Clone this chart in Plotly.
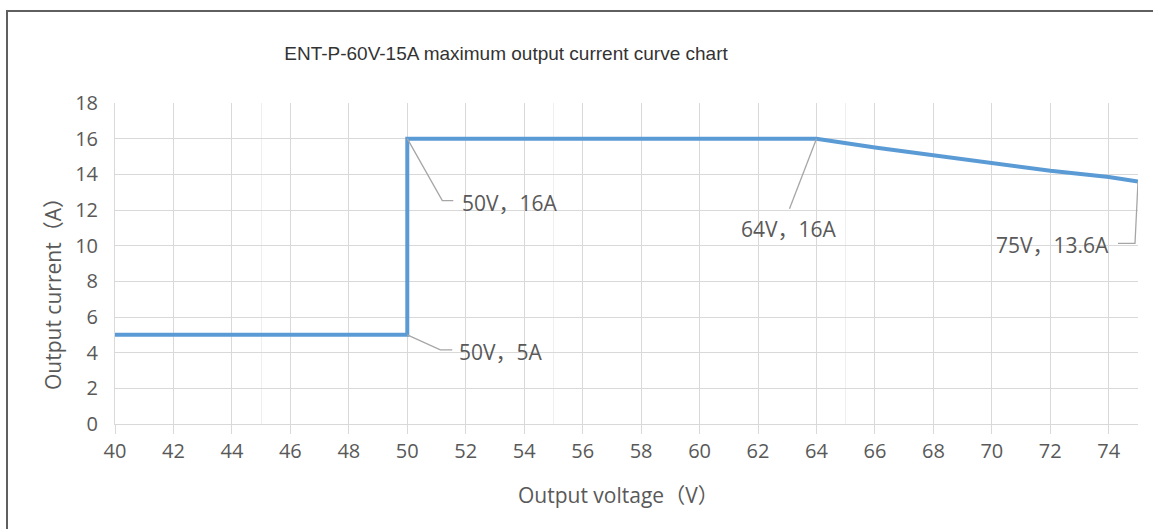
import plotly.graph_objects as go

# ---- data ----
voltage = [40, 50, 50, 64, 66, 68, 70, 72, 74, 75]
current = [5, 5, 16, 16, 15.5, 15.05, 14.65, 14.2, 13.85, 13.6]

label_v = [50, 50, 64, 75]
label_i = [16, 5, 16, 13.6]
label_text = ["50V，16A", "50V，5A", "64V，16A", "75V，13.6A"]

x_ticks = list(range(40, 75, 2))
y_ticks = list(range(0, 19, 2))

title_text = "ENT-P-60V-15A maximum output current curve chart"
x_title = "Output voltage（V）"
y_title = "Output current（A）"

# ---- styling ----
FONT = "Open Sans, Noto Sans CJK SC, sans-serif"
TXT = "#595959"
GRID = "#d9d9d9"
LEADER = "#a6a6a6"
W, H = 1153, 529
ML, MR, MT, MB = 115, 15, 103, 105
PW, PH = W - ML - MR, H - MT - MB

fig = go.Figure()
fig.add_trace(go.Scatter(x=voltage, y=current, mode="lines",
                         line=dict(color="#5b9bd5", width=4),
                         hoverinfo="skip", showlegend=False))

# leader line geometry (pixel offsets relative to the labelled point) and text offsets
leaders = [
    "M0,0 L35,-62 L46,-62",
    "M0,0 L33,-15 L45,-15",
    "M0,0 L-27,-70",
    "M0,0 L-3,-62 L-20,-62",
]
text_pos = [
    dict(xanchor="left", xshift=53, yshift=-64),
    dict(xanchor="left", xshift=50, yshift=-17),
    dict(xanchor="center", xshift=-27, yshift=-90),
    dict(xanchor="right", xshift=-27, yshift=-64),
]
shapes = []
annotations = []
for v, i, t, path, pos in zip(label_v, label_i, label_text, leaders, text_pos):
    shapes.append(dict(type="path", xref="x", yref="y", xsizemode="pixel", ysizemode="pixel",
                       xanchor=v, yanchor=i, path=path,
                       line=dict(color=LEADER, width=1.3)))
    annotations.append(dict(x=v, y=i, xref="x", yref="y", text=t, showarrow=False,
                            yanchor="middle", font=dict(family=FONT, size=21, color=TXT), **pos))

# axis titles
annotations.append(dict(text=x_title, xref="paper", yref="paper",
                        x=(618 - ML) / PW, y=(H - MB - 495) / PH,
                        xanchor="center", yanchor="middle", showarrow=False,
                        font=dict(family=FONT, size=21, color=TXT)))
annotations.append(dict(text=y_title, xref="paper", yref="paper",
                        x=(53 - ML) / PW, y=(H - MB - 289) / PH, textangle=-90,
                        xanchor="center", yanchor="middle", showarrow=False,
                        font=dict(family=FONT, size=21, color=TXT)))

# outer chart border
shapes.append(dict(type="rect", xref="paper", yref="paper", layer="above",
                   x0=(7 - ML) / PW, x1=(W + 20 - ML) / PW,
                   y0=(H - MB - (H + 20)) / PH, y1=(H - MB - 11) / PH,
                   line=dict(color="#5f5f5f", width=2), fillcolor="rgba(0,0,0,0)"))

fig.update_layout(
    width=W, height=H,
    margin=dict(l=ML, r=MR, t=MT, b=MB),
    paper_bgcolor="white", plot_bgcolor="white",
    title=dict(text=title_text, x=506 / W, xanchor="center", y=1 - 53 / H, yanchor="middle",
               font=dict(family="Liberation Sans, Arial, sans-serif", size=19, color="#333333")),
    shapes=shapes, annotations=annotations,
    xaxis=dict(range=[40, 75], tickvals=x_ticks, ticktext=[str(v) for v in x_ticks],
               showgrid=True, gridcolor=GRID, gridwidth=1, zeroline=False,
               showline=True, linecolor=GRID, linewidth=1,
               ticks="outside", ticklen=9, tickcolor=GRID, tickwidth=1,
               tickfont=dict(family=FONT, size=20, color=TXT),
               minor=dict(tick0=45, dtick=10, showgrid=True, gridcolor="#efefef", gridwidth=1)),
    yaxis=dict(range=[0, 18], tickvals=y_ticks, ticktext=[str(v) for v in y_ticks],
               showgrid=True, gridcolor=GRID, gridwidth=1, zeroline=False,
               showline=True, linecolor=GRID, linewidth=1, ticks="",
               ticklabelstandoff=12,
               tickfont=dict(family=FONT, size=20, color=TXT)),
)

fig.write_html("out.html", config={"displayModeBar": False},
               post_script="document.body.style.margin='0';")
